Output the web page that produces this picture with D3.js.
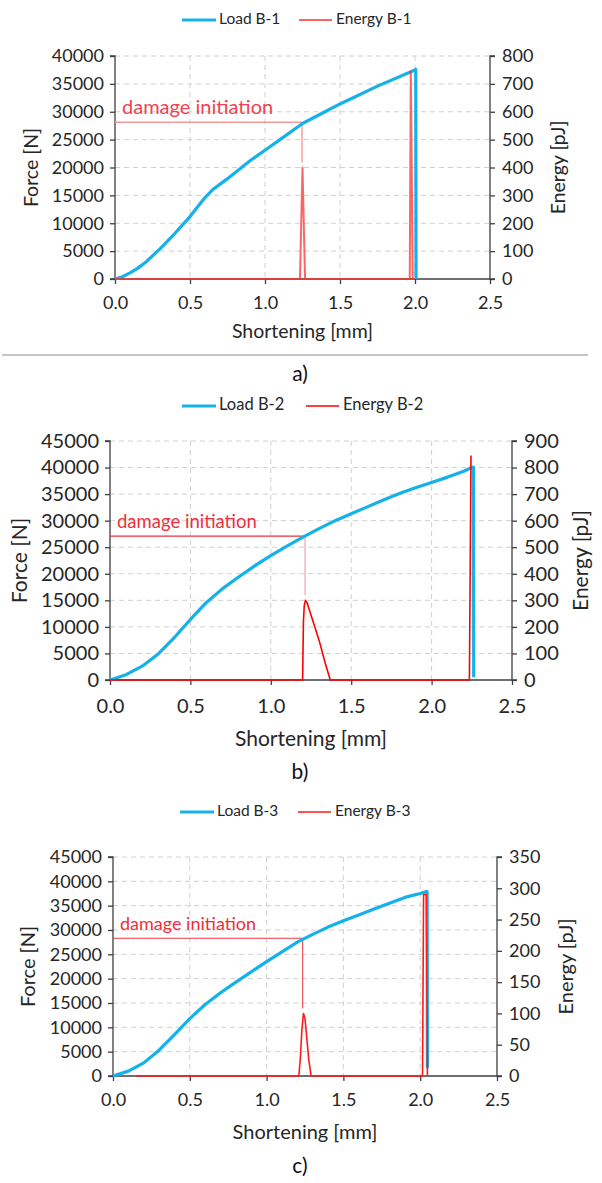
<!DOCTYPE html>
<html>
<head>
<meta charset="utf-8">
<script src="https://cdn.jsdelivr.net/npm/d3@7"></script>
<style>
  body { margin: 0; background: #fff; }
  svg { display: block; }
  text { font-family: Lato, "Open Sans", sans-serif; fill: #262626; }
</style>
</head>
<body>
<svg id="fig" width="602" height="1183"></svg>
<script>
// ---------------- data ----------------
const shorteningTicks = [0, 0.5, 1.0, 1.5, 2.0, 2.5];

const forceTicksB1  = [0, 5000, 10000, 15000, 20000, 25000, 30000, 35000, 40000];
const energyTicksB1 = [0, 100, 200, 300, 400, 500, 600, 700, 800];
const forceTicksB2  = [0, 5000, 10000, 15000, 20000, 25000, 30000, 35000, 40000, 45000];
const energyTicksB2 = [0, 100, 200, 300, 400, 500, 600, 700, 800, 900];
const forceTicksB3  = [0, 5000, 10000, 15000, 20000, 25000, 30000, 35000, 40000, 45000];
const energyTicksB3 = [0, 50, 100, 150, 200, 250, 300, 350];

// Specimen B-1
const loadX_B1 = [0, 0.05, 0.1, 0.15, 0.2, 0.3, 0.4, 0.5, 0.6, 0.65, 0.75, 0.9, 1.0, 1.1, 1.25, 1.4, 1.5, 1.75, 2.0, 2.005, 2.007];
const load_B1  = [0, 400, 1100, 1900, 2900, 5400, 8200, 11200, 14600, 16000, 18000, 21200, 23100, 25000, 27900, 30000, 31400, 34600, 37500, 37600, 0];
const energyX_B1 = [0, 1.233, 1.25, 1.267, 1.965, 1.972, 1.985, 2.0];
const energy_B1  = [0, 0, 400, 0, 0, 745, 0, 0];

// Specimen B-2
const loadX_B2 = [0, 0.1, 0.2, 0.3, 0.4, 0.5, 0.6, 0.7, 0.8, 0.9, 1.0, 1.1, 1.2, 1.3, 1.4, 1.5, 1.6, 1.7, 1.8, 1.9, 2.0, 2.1, 2.2, 2.255, 2.26, 2.262];
const load_B2  = [0, 1000, 2600, 4900, 8000, 11400, 14600, 17200, 19400, 21500, 23400, 25200, 26900, 28500, 30000, 31300, 32600, 33900, 35100, 36200, 37200, 38200, 39300, 40100, 40100, 500];
const energyX_B2 = [0, 1.198, 1.2, 1.203, 1.208, 1.215, 1.225, 1.25, 1.3, 1.34, 1.37, 2.235, 2.245];
const energy_B2  = [0, 0, 100, 220, 280, 300, 292, 245, 150, 60, 0, 0, 845];

// Specimen B-3
const loadX_B3 = [0, 0.1, 0.2, 0.3, 0.4, 0.5, 0.6, 0.7, 0.8, 0.9, 1.0, 1.1, 1.2, 1.3, 1.4, 1.5, 1.6, 1.7, 1.8, 1.9, 2.0, 2.04, 2.045, 2.047];
const load_B3  = [0, 1000, 2700, 5300, 8500, 11800, 14700, 17100, 19300, 21400, 23500, 25500, 27500, 29100, 30600, 31900, 33100, 34300, 35500, 36700, 37500, 37900, 37900, 1600];
const energyX_B3 = [0.15, 1.21, 1.22, 1.23, 1.24, 1.25, 1.26, 1.275, 1.29, 2.015, 2.022, 2.04, 2.047];
const energy_B3  = [0, 0, 30, 75, 100, 92, 65, 25, 0, 0, 290, 290, 0];

const loadNames   = ["Load B-1", "Load B-2", "Load B-3"];
const energyNames = ["Energy B-1", "Energy B-2", "Energy B-3"];
const panelLabels = ["a)", "b)", "c)"];
const damageText  = "damage initiation";
const damageX     = [1.247, 1.213, 1.235];
const damageForce = [28100, 27100, 28300];
const damagePeak  = [400, 300, 100];

const xTitle = "Shortening [mm]";
const yTitle = "Force [N]";
const y2Title = "Energy [pJ]";

// ---------------- layout ----------------
const panels = [
  { left: 115, right: 490, top: 56, bottom: 279, font: 18, titleFont: 19.5, annoFont: 20, legY: 20, legX: [182, 299], legFont: 15.5,
    yTitleX: 33, y2TitleX: 560, xTickDy: 24, xTitleY: 333, captionY: 376,
    loadX: loadX_B1, load: load_B1, energyX: energyX_B1, energy: energy_B1,
    fTicks: forceTicksB1, eTicks: energyTicksB1,
    energyStyle: { stroke: "#ff3030", width: 2, opacity: 0.75 },
    annoStyle: { h: "#f39a9a", v: "#f5a3a3", text: "#ef4250", w: 1.5 } },
  { left: 110, right: 512, top: 441, bottom: 680, font: 20, titleFont: 21, annoFont: 18.5, legY: 406, legX: [182, 306], legFont: 16.5,
    yTitleX: 22, y2TitleX: 583, xTickDy: 26, xTitleY: 741, captionY: 774,
    loadX: loadX_B2, load: load_B2, energyX: energyX_B2, energy: energy_B2,
    fTicks: forceTicksB2, eTicks: energyTicksB2,
    energyStyle: { stroke: "#ff0000", width: 1.6, opacity: 1 },
    annoStyle: { h: "#e8323c", v: "#f4a0a8", text: "#ef2f3c", w: 1.2 } },
  { left: 113, right: 497, top: 857, bottom: 1076, font: 18, titleFont: 20, annoFont: 18, legY: 812, legX: [180, 298], legFont: 15.5,
    yTitleX: 30, y2TitleX: 568, xTickDy: 24, xTitleY: 1134, captionY: 1168,
    loadX: loadX_B3, load: load_B3, energyX: energyX_B3, energy: energy_B3,
    fTicks: forceTicksB3, eTicks: energyTicksB3,
    energyStyle: { stroke: "#ff1a1a", width: 1.6, opacity: 1 },
    annoStyle: { h: "#f03a44", v: "#e8323c", text: "#ef2f3c", w: 1 } }
];

const svg = d3.select("#fig");
const BLUE = "#14b1ea";
const AXIS = "#3f3f3f";
const GRID = "#d0d0d0";

panels.forEach((p, i) => {
  const g = svg.append("g");
  const x = d3.scaleLinear().domain([0, 2.5]).range([p.left, p.right]);
  const y = d3.scaleLinear().domain([0, d3.max(p.fTicks)]).range([p.bottom, p.top]);
  const y2 = d3.scaleLinear().domain([0, d3.max(p.eTicks)]).range([p.bottom, p.top]);

  // grid
  g.append("g").selectAll("line").data(p.fTicks.filter(d => d > 0)).join("line")
    .attr("x1", p.left).attr("x2", p.right)
    .attr("y1", d => y(d)).attr("y2", d => y(d))
    .attr("stroke", GRID).attr("stroke-width", 1).attr("stroke-dasharray", "5,4");
  g.append("g").selectAll("line").data(shorteningTicks.filter(d => d > 0 && d < 2.5)).join("line")
    .attr("x1", d => x(d)).attr("x2", d => x(d))
    .attr("y1", p.top).attr("y2", p.bottom)
    .attr("stroke", GRID).attr("stroke-width", 1).attr("stroke-dasharray", "5,4");

  // axes
  const ax = d3.axisBottom(x).tickValues(shorteningTicks).tickFormat(d3.format(".1f")).tickSize(5).tickPadding(p.xTickDy - 12);
  const ay = d3.axisLeft(y).tickValues(p.fTicks).tickFormat(d3.format("d")).tickSize(5).tickPadding(6);
  const ay2 = d3.axisRight(y2).tickValues(p.eTicks).tickFormat(d3.format("d")).tickSize(5).tickPadding(7);

  const gx = g.append("g").attr("transform", `translate(0,${p.bottom})`).call(ax);
  const gy = g.append("g").attr("transform", `translate(${p.left},0)`).call(ay);
  const gy2 = g.append("g").attr("transform", `translate(${p.right},0)`).call(ay2);
  [gx, gy, gy2].forEach(a => {
    a.select(".domain").attr("stroke", AXIS).attr("stroke-width", 1.3);
    a.selectAll(".tick line").attr("stroke", AXIS).attr("stroke-width", 1.3);
    a.selectAll(".tick text").attr("font-size", p.font).attr("font-family", "Lato, 'Open Sans', sans-serif").attr("fill", "#1e1e1e");
  });
  gy.select(".domain").attr("d", `M-5,${p.top}H0V${p.bottom}H-5`);
  gy2.select(".domain").attr("d", `M5,${p.top}H0V${p.bottom}H5`);
  gx.select(".domain").attr("d", `M${p.left},0H${p.right}`);

  // annotation: damage initiation
  const dx = x(damageX[i]);
  const dy = y(damageForce[i]);
  g.append("line").attr("x1", p.left).attr("x2", dx).attr("y1", dy).attr("y2", dy)
    .attr("stroke", p.annoStyle.h).attr("stroke-width", p.annoStyle.w);
  g.append("line").attr("x1", dx).attr("x2", dx).attr("y1", dy).attr("y2", y2(damagePeak[i]) - 5)
    .attr("stroke", p.annoStyle.v).attr("stroke-width", p.annoStyle.w);
  g.append("text").attr("x", p.left + 7).attr("y", dy - 8)
    .attr("font-size", p.annoFont).style("fill", p.annoStyle.text)
    .text(damageText);

  // load curve
  const loadPts = p.loadX.map((v, k) => [v, p.load[k]]);
  g.append("path").datum(loadPts)
    .attr("fill", "none").attr("stroke", BLUE).attr("stroke-width", 3.2)
    .attr("stroke-linejoin", "round")
    .attr("d", d3.line().x(d => x(d[0])).y(d => y(d[1])));

  // energy curve
  const enPts = p.energyX.map((v, k) => [v, p.energy[k]]);
  g.append("path").datum(enPts)
    .attr("fill", "none").attr("stroke", p.energyStyle.stroke).attr("stroke-width", p.energyStyle.width)
    .attr("stroke-opacity", p.energyStyle.opacity).attr("stroke-linejoin", "round")
    .attr("d", d3.line().x(d => x(d[0])).y(d => y2(d[1])));

  // titles
  g.append("text").attr("x", (p.left + p.right) / 2).attr("y", p.xTitleY)
    .attr("text-anchor", "middle").attr("dominant-baseline", "middle")
    .attr("font-size", p.titleFont).text(xTitle);
  g.append("text").attr("transform", `translate(${p.yTitleX},${(p.top + p.bottom) / 2}) rotate(-90)`)
    .attr("text-anchor", "middle").attr("dominant-baseline", "middle")
    .attr("font-size", p.titleFont).text(yTitle);
  g.append("text").attr("transform", `translate(${p.y2TitleX},${(p.top + p.bottom) / 2}) rotate(-90)`)
    .attr("text-anchor", "middle").attr("dominant-baseline", "middle")
    .attr("font-size", p.titleFont).text(y2Title);

  // legend
  const lg = g.append("g");
  lg.append("line").attr("x1", p.legX[0]).attr("x2", p.legX[0] + 34).attr("y1", p.legY).attr("y2", p.legY)
    .attr("stroke", BLUE).attr("stroke-width", 3.2);
  lg.append("text").attr("x", p.legX[0] + 37).attr("y", p.legY).attr("dominant-baseline", "middle")
    .attr("font-size", p.legFont).text(loadNames[i]);
  lg.append("line").attr("x1", p.legX[1]).attr("x2", p.legX[1] + 33).attr("y1", p.legY).attr("y2", p.legY)
    .attr("stroke", p.energyStyle.stroke).attr("stroke-width", p.energyStyle.width).attr("stroke-opacity", p.energyStyle.opacity);
  lg.append("text").attr("x", p.legX[1] + 37).attr("y", p.legY).attr("dominant-baseline", "middle")
    .attr("font-size", p.legFont).text(energyNames[i]);

  // caption
  g.append("text").attr("x", 300).attr("y", p.captionY)
    .attr("text-anchor", "middle").attr("dominant-baseline", "middle")
    .attr("font-family", "'Liberation Sans', Arial, sans-serif")
    .attr("font-size", 21).style("fill", "#111").text(panelLabels[i]);
});

// separator under the first panel
svg.append("line").attr("x1", 2).attr("x2", 588).attr("y1", 355).attr("y2", 355)
  .attr("stroke", "#8c8c8c").attr("stroke-width", 1.2);
</script>
</body>
</html>
